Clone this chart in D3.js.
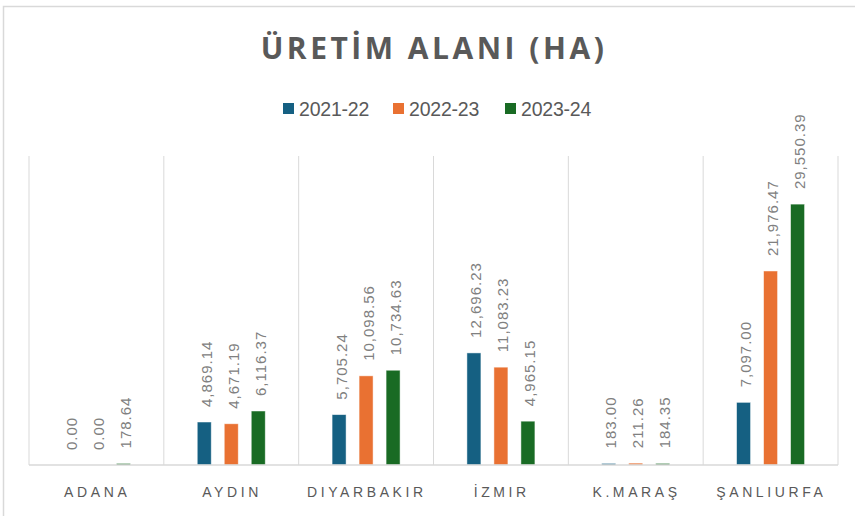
<!DOCTYPE html>
<html><head><meta charset="utf-8">
<script src="https://cdn.jsdelivr.net/npm/d3@7"></script>
<style>body{margin:0;background:#fff}svg{display:block}</style>
</head><body>
<svg id="c" width="855" height="516"></svg>
<script>
const title = "ÜRETİM ALANI (HA)";
const categories = ["ADANA","AYDIN","DIYARBAKIR","İZMIR","K.MARAŞ","ŞANLIURFA"];
const seriesNames = ["2021-22","2022-23","2023-24"];
const s2021 = [0.00, 4869.14, 5705.24, 12696.23, 183.00, 7097.00];
const s2022 = [0.00, 4671.19, 10098.56, 11083.23, 211.26, 21976.47];
const s2023 = [178.64, 6116.37, 10734.63, 4965.15, 184.35, 29550.39];
const series = [s2021, s2022, s2023];
const colors = ["#156082","#E97132","#196B24"];
const yMax = 35000;

(function(){
const svg = d3.select("#c");
const font = "'Liberation Sans', Arial, sans-serif";
svg.append("rect").attr("x",3.5).attr("y",6.5).attr("width",870).attr("height",530)
  .attr("fill","#fff").attr("stroke","#d9d9d9").attr("stroke-width",1.5);

svg.append("text").attr("x",434).attr("y",59).attr("text-anchor","middle")
  .attr("font-family","'Open Sans', 'DejaVu Sans', sans-serif").attr("font-weight",700)
  .attr("font-size",30).attr("letter-spacing",3.5).attr("fill","#595959").text(title);

const pL = 29, pR = 838, pT = 156, pB = 465;
const x = d3.scaleBand().domain(categories).range([pL,pR]).paddingInner(0).paddingOuter(0);
const y = d3.scaleLinear().domain([0,yMax]).range([pB,pT]);
const xs = d3.scaleBand().domain(seriesNames).range([0,68]).paddingInner(13/27);

const g = svg.append("g");
const bounds = categories.map(c=>x(c)).concat([pR]);
g.selectAll("line.div").data(bounds).join("line").attr("class","div")
  .attr("x1",d=>d).attr("x2",d=>d).attr("y1",pT).attr("y2",pB)
  .attr("stroke","#d9d9d9").attr("stroke-width",1);

const offset = (x.bandwidth()-68)/2;
seriesNames.forEach((s,si)=>{
  const data = categories.map((c,i)=>({c, v: series[si][i]}));
  g.selectAll(null).data(data).join("rect")
    .attr("x",d=>x(d.c)+offset+xs(s)).attr("width",xs.bandwidth())
    .attr("y",d=>y(d.v)).attr("height",d=>y(0)-y(d.v))
    .attr("fill",colors[si]).attr("stroke","#ffffff").attr("stroke-opacity",0.6).attr("stroke-width",0.8);
  g.selectAll(null).data(data).join("text")
    .attr("transform",d=>`translate(${x(d.c)+offset+xs(s)+xs.bandwidth()/2+7.5},${y(d.v)-15}) rotate(-90)`)
    .attr("text-anchor","start").attr("font-family",font).attr("font-size",15)
    .attr("letter-spacing",1.0)
    .attr("fill","#808080")
    .text(d=>d3.format(",.2f")(d.v));
});
g.append("line").attr("x1",pL).attr("x2",pR).attr("y1",pB).attr("y2",pB)
  .attr("stroke","#d9d9d9").attr("stroke-width",1.6);

const ls = 3.6;
g.selectAll("text.cat").data(categories).join("text").attr("class","cat")
  .attr("x",d=>x(d)+x.bandwidth()/2+ls/2-1).attr("y",497).attr("text-anchor","middle")
  .attr("font-family",font).attr("font-size",14).attr("letter-spacing",ls)
  .attr("fill","#595959").text(d=>d);

const legendX = [283, 393, 505];
const lg = svg.append("g");
seriesNames.forEach((s,i)=>{
  lg.append("rect").attr("x",legendX[i]).attr("y",103).attr("width",11).attr("height",11).attr("fill",colors[i]);
  lg.append("text").attr("x",legendX[i]+16).attr("y",116).attr("font-family",font)
    .attr("font-size",19.5).attr("letter-spacing",-0.2).attr("fill","#595959").text(s);
});
})();
</script>
</body></html>
